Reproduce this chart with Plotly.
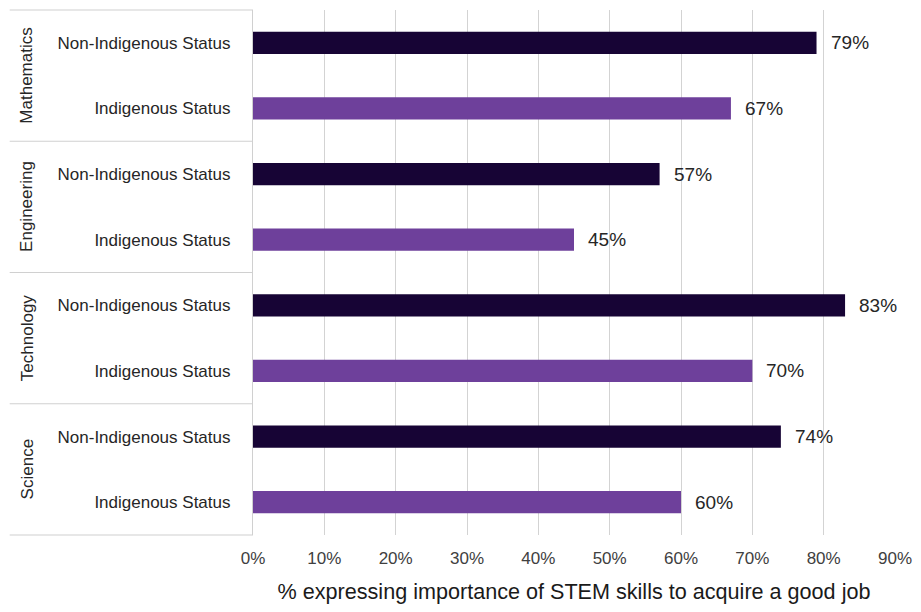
import plotly.graph_objects as go

# STEM subjects, listed top to bottom
subjects = ["Mathematics", "Engineering", "Technology", "Science"]
statuses = ["Non-Indigenous Status", "Indigenous Status"]

# % expressing importance of STEM skills to acquire a good job
non_indigenous = [79, 57, 83, 74]
indigenous = [67, 45, 70, 60]

x_ticks = [0, 10, 20, 30, 40, 50, 60, 70, 80, 90]

DARK = "#170435"
PURPLE = "#6e409b"
FONT = "Liberation Sans Narrow, Arial Narrow, Liberation Sans, Arial, sans-serif"

# One unique category key per bar row; tick text shows only the status
keys, labels, values, colors = [], [], [], []
for subj, v_non, v_ind in zip(subjects, non_indigenous, indigenous):
    for status, v, c in ((statuses[0], v_non, DARK), (statuses[1], v_ind, PURPLE)):
        keys.append(f"{subj}|{status}")
        labels.append(status)
        values.append(v)
        colors.append(c)

fig = go.Figure(
    go.Bar(
        x=values,
        y=keys,
        orientation="h",
        marker=dict(color=colors, line=dict(width=0)),
        width=0.34,
        hoverinfo="x+y",
    )
)

# value labels to the right of each bar
for k, v in zip(keys, values):
    fig.add_annotation(
        x=v, y=k, xref="x", yref="y", text=f"{v}%", showarrow=False,
        xanchor="left", yanchor="middle", xshift=12,
        font=dict(family=FONT, size=19, color="#262626"),
    )

# subject group labels and separators in the left label column
left_edge = -0.379
n = len(subjects)
for i, subj in enumerate(subjects):
    fig.add_annotation(
        x=-0.352, y=1 - (i + 0.5) / n, xref="paper", yref="paper",
        xanchor="center", yanchor="middle",
        text=subj, textangle=-90, showarrow=False,
        font=dict(family=FONT, size=17, color="#262626"),
    )
for i in range(n + 1):
    fig.add_shape(
        type="line", xref="paper", yref="paper",
        x0=left_edge, x1=0, y0=i / n, y1=i / n,
        line=dict(color="#d0d0d0", width=1.2),
    )

fig.update_layout(
    width=921, height=612,
    margin=dict(l=253, r=26, t=10, b=77),
    paper_bgcolor="white", plot_bgcolor="white",
    showlegend=False,
    bargap=0.66,
    font=dict(family=FONT, color="#262626"),
    xaxis=dict(
        range=[0, 90],
        tickvals=x_ticks,
        ticktext=[f"{t}%" for t in x_ticks],
        showgrid=True, gridcolor="#d3d3d3", gridwidth=1.3,
        zeroline=False, showline=False,
        tickfont=dict(family=FONT, size=17, color="#404040"),
        ticks="", ticklabelstandoff=11,
        title=dict(
            text="% expressing importance of STEM skills to acquire a good job",
            font=dict(family=FONT, size=21.6, color="#1a1a1a"), standoff=16,
        ),
    ),
    yaxis=dict(
        categoryorder="array", categoryarray=keys,
        tickvals=keys, ticktext=labels,
        autorange="reversed",
        showgrid=False, zeroline=False,
        showline=True, linecolor="#d0d0d0", linewidth=1.2,
        ticks="", ticklabelstandoff=18,
        tickfont=dict(family=FONT, size=17, color="#262626"),
    ),
)

fig.write_html("out.html")
